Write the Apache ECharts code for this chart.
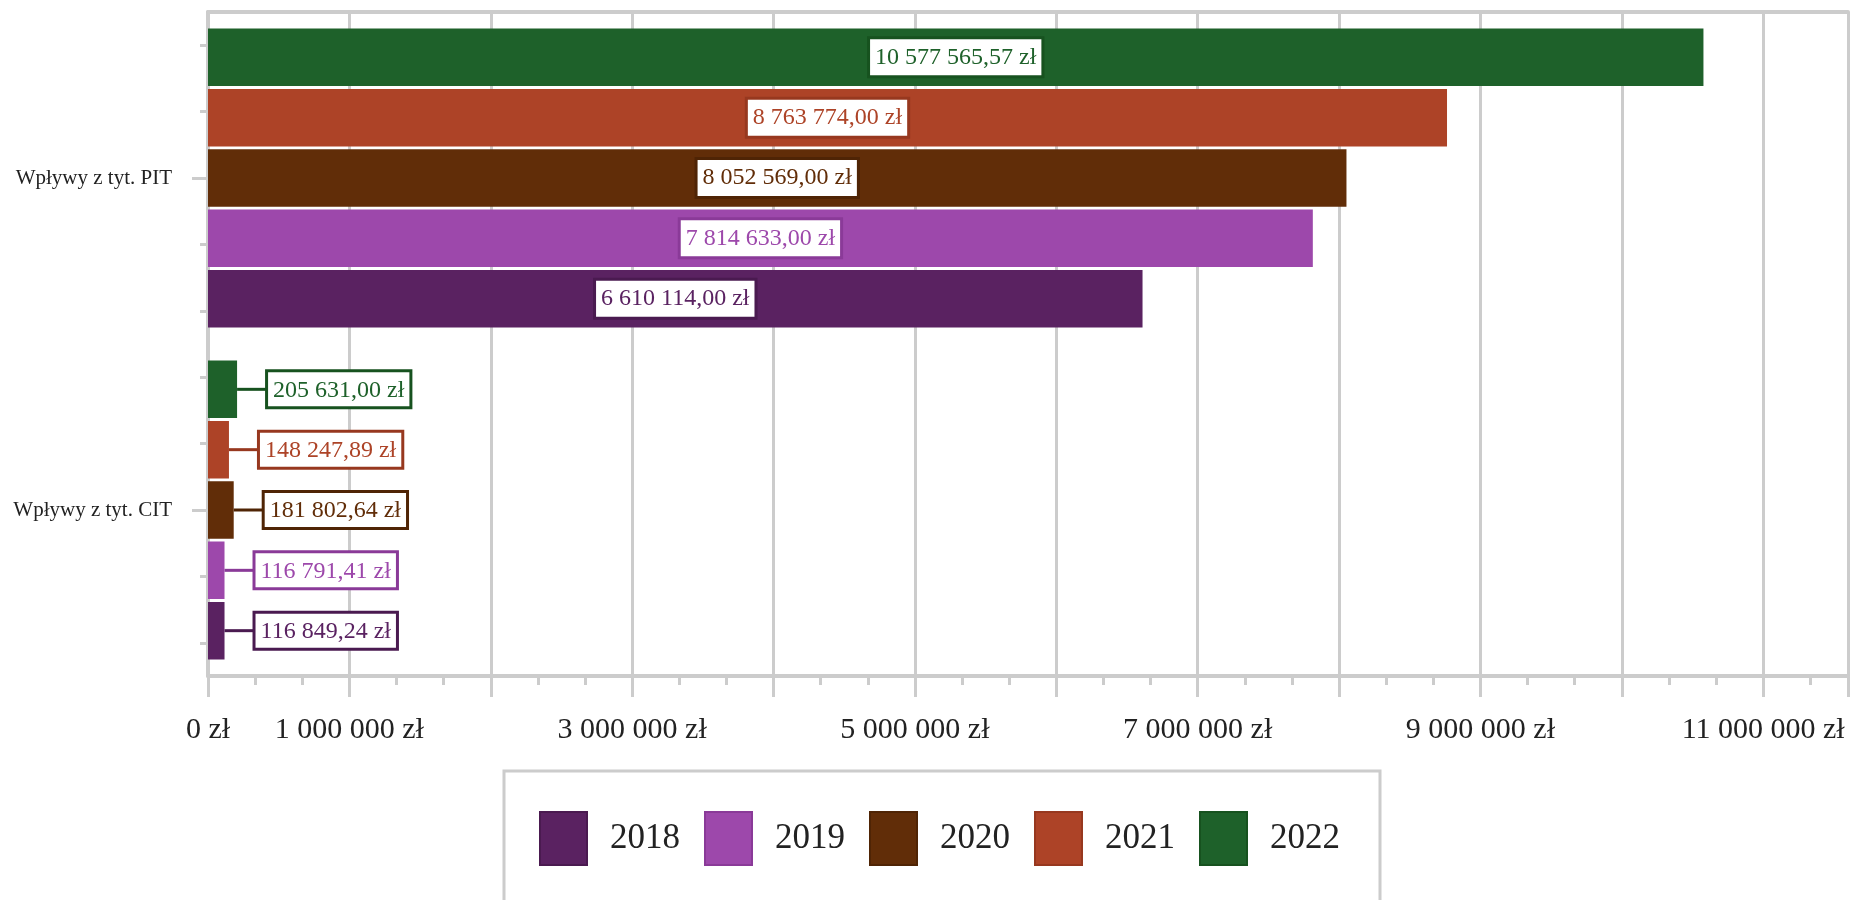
<!DOCTYPE html>
<html><head><meta charset="utf-8">
<script src="https://cdn.jsdelivr.net/npm/echarts@6/dist/echarts.min.js"></script>
<style>html,body{margin:0;padding:0;background:#fff}#c{width:1851px;height:900px}</style>
</head><body><div id="c"></div>
<script>
const categories = ['Wpływy z tyt. CIT', 'Wpływy z tyt. PIT'];
const years = ['2018', '2019', '2020', '2021', '2022'];
const citValues = [116849.24, 116791.41, 181802.64, 148247.89, 205631.00];
const pitValues = [6610114.00, 7814633.00, 8052569.00, 8763774.00, 10577565.57];
const shownTickLabels = [0, 1000000, 3000000, 5000000, 7000000, 9000000, 11000000];
const colors = ['#5a2261', '#9d48ab', '#612d08', '#ad4327', '#1e612a'];
const borderColors = ['#4a1a50', '#8a3a98', '#4f2405', '#97381f', '#17521f'];

const FONT = '"Liberation Serif", "Times New Roman", serif';

function fmt(v, dec) {
  const s = v.toFixed(dec);
  const parts = s.split('.');
  const intPart = parts[0].replace(/\B(?=(\d{3})+(?!\d))/g, ' ');
  return dec ? intPart + ',' + parts[1] + ' zł' : intPart + ' zł';
}

const series = years.map((y, i) => ({
  name: y,
  type: 'bar',
  barCategoryGap: '10%',
  barGap: '5%',
  itemStyle: { color: colors[i] },
  data: [
    {
      value: citValues[i],
      label: {
        show: true, position: 'right', distance: 0,
        formatter: p => '{l|}{b|' + fmt(p.value, 2) + '}',
        rich: {
          l: { width: 31, height: 3, backgroundColor: borderColors[i], verticalAlign: 'middle' },
          b: {
            fontFamily: FONT, fontSize: 24, color: colors[i], verticalAlign: 'middle',
            backgroundColor: '#fff', borderColor: borderColors[i], borderWidth: 3,
            padding: [6, 5, 4, 5]
          }
        }
      }
    },
    {
      value: pitValues[i],
      label: {
        show: true, position: 'inside',
        formatter: p => fmt(p.value, 2),
        fontFamily: FONT, fontSize: 24, color: colors[i],
        backgroundColor: '#fff', borderColor: borderColors[i], borderWidth: 3,
        padding: [7, 5, 5, 5]
      }
    }
  ]
})).reverse();

const option = {
  backgroundColor: '#fff',
  animation: false,
  grid: { left: 208, right: 0, top: 12, bottom: 224 },
  legend: {
    data: years.map((y, i) => ({ name: y, itemStyle: { borderColor: borderColors[i], borderWidth: 2 } })),
    left: 504, top: 771,
    padding: [40, 40, 40, 35],
    borderColor: '#cccccc', borderWidth: 3,
    itemWidth: 47, itemHeight: 53, itemGap: 24,
    icon: 'rect',
    textStyle: { fontFamily: FONT, fontSize: 35, color: '#222', padding: [0, 0, 0, 18] }
  },
  xAxis: [
    {
      type: 'value', min: 0, max: 11600000, interval: 1000000,
      axisLine: { show: true, lineStyle: { color: '#cccccc', width: 4 } },
      axisTick: { show: true, length: 21, lineStyle: { color: '#cccccc', width: 3 } },
      minorTick: { show: true, splitNumber: 3, length: 9, lineStyle: { color: '#cccccc', width: 3 } },
      splitLine: { show: true, lineStyle: { color: '#cccccc', width: 3 } },
      axisLabel: {
        margin: 39, fontFamily: FONT, fontSize: 30, color: '#222',
        formatter: v => shownTickLabels.indexOf(v) >= 0 ? fmt(v, 0) : ''
      }
    },
    {
      type: 'value', position: 'top', min: 0, max: 11600000, interval: 1000000,
      axisLine: { show: true, lineStyle: { color: '#cccccc', width: 4 } },
      axisTick: { show: false }, axisLabel: { show: false }, splitLine: { show: false }
    }
  ],
  yAxis: [
    {
      type: 'category', data: categories,
      axisLine: { show: true, lineStyle: { color: '#cccccc', width: 4 } },
      axisTick: { show: true, alignWithLabel: true, length: 16, lineStyle: { color: '#cccccc', width: 3 } },
      axisLabel: { margin: 36, fontFamily: FONT, fontSize: 21, color: '#222' }
    },
    {
      type: 'category', position: 'left', data: ['a','b','c','d','e','f','g','h','i','j'],
      axisLine: { show: false },
      axisTick: { show: true, alignWithLabel: true, length: 8, lineStyle: { color: '#cccccc', width: 3 } },
      axisLabel: { show: false }, splitLine: { show: false }
    }
  ],
  series: series
};

const chart = echarts.init(document.getElementById('c'), null, { renderer: 'canvas' });
chart.setOption(option);
</script></body></html>
